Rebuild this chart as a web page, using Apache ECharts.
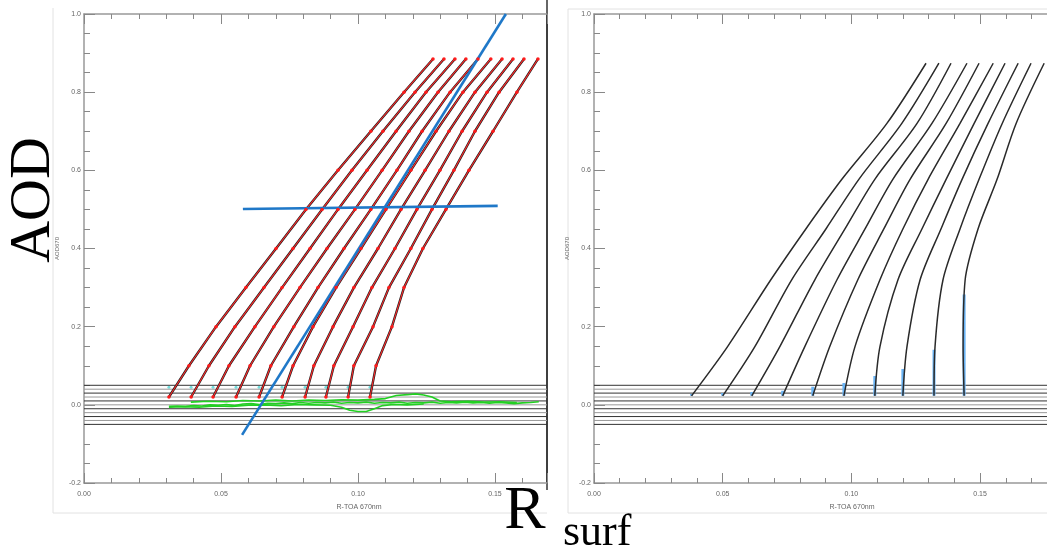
<!DOCTYPE html>
<html>
<head>
<meta charset="utf-8">
<script src="https://cdn.jsdelivr.net/npm/echarts@6/dist/echarts.min.js"></script>
<style>
html, body { margin: 0; padding: 0; background: #fff; }
#chart { width: 1047px; height: 551px; }
</style>
</head>
<body>
<div id="chart"></div>
<script>
// ===== data =====
// left panel: AOD levels where each curve was read, and R-TOA of each of the 10 curves
var leftAod = [0.02, 0.1, 0.2, 0.3, 0.4, 0.5, 0.6, 0.7, 0.8, 0.885];
var leftCurves = [
    [0.0310, 0.0383, 0.0482, 0.0591, 0.0701, 0.0810, 0.0927, 0.1047, 0.1168, 0.1274],
    [0.0391, 0.0456, 0.0551, 0.0657, 0.0763, 0.0869, 0.0978, 0.1091, 0.1208, 0.1314],
    [0.0471, 0.0529, 0.0624, 0.0723, 0.0825, 0.0927, 0.1033, 0.1139, 0.1248, 0.1354],
    [0.0555, 0.0606, 0.0693, 0.0788, 0.0887, 0.0989, 0.1088, 0.1186, 0.1292, 0.1394],
    [0.0639, 0.0682, 0.0766, 0.0854, 0.0949, 0.1047, 0.1142, 0.1234, 0.1336, 0.1438],
    [0.0723, 0.0763, 0.0836, 0.0920, 0.1011, 0.1102, 0.1193, 0.1285, 0.1383, 0.1485],
    [0.0807, 0.0839, 0.0909, 0.0985, 0.1073, 0.1157, 0.1245, 0.1332, 0.1427, 0.1526],
    [0.0883, 0.0912, 0.0982, 0.1051, 0.1135, 0.1215, 0.1299, 0.1380, 0.1471, 0.1566],
    [0.0964, 0.0985, 0.1055, 0.1113, 0.1193, 0.1270, 0.1350, 0.1427, 0.1515, 0.1606],
    [0.1044, 0.1066, 0.1124, 0.1168, 0.1237, 0.1321, 0.1405, 0.1493, 0.1580, 0.1657]
];

// right panel
var rightAod = [0.023, 0.149, 0.32, 0.45, 0.577, 0.72, 0.874];
var rightCurves = [
    [0.0379, 0.0519, 0.0687, 0.0823, 0.0963, 0.1138, 0.1290],
    [0.0500, 0.0625, 0.0768, 0.0901, 0.1029, 0.1196, 0.1340],
    [0.0613, 0.0722, 0.0858, 0.0975, 0.1091, 0.1255, 0.1387],
    [0.0733, 0.0819, 0.0944, 0.1053, 0.1161, 0.1313, 0.1449],
    [0.0850, 0.0916, 0.1025, 0.1126, 0.1228, 0.1368, 0.1496],
    [0.0971, 0.1014, 0.1111, 0.1200, 0.1298, 0.1422, 0.1551],
    [0.1091, 0.1111, 0.1181, 0.1274, 0.1368, 0.1477, 0.1597],
    [0.1200, 0.1216, 0.1267, 0.1348, 0.1430, 0.1531, 0.1648],
    [0.1321, 0.1325, 0.1356, 0.1422, 0.1496, 0.1586, 0.1698],
    [0.1438, 0.1434, 0.1442, 0.1492, 0.1566, 0.1640, 0.1749]
];
// top of the light blue mark at the foot of each right-panel curve
var rightBlueTop = [0.028, 0.030, 0.033, 0.036, 0.046, 0.056, 0.074, 0.092, 0.141, 0.282];

// horizontal band of lines around AOD 0
var bandLevels = [-0.05, -0.04, -0.03, -0.02, -0.01, 0.0, 0.01, 0.02, 0.03, 0.04, 0.05];

// blue lines on the left panel
var blueDiag = [[0.0577, -0.077], [0.154, 1.0]];
var blueFlat = [[0.058, 0.501], [0.151, 0.509]];

// green traces near AOD 0
var greenMain = [[0.031,-0.004],[0.034,-0.003],[0.037,-0.004],[0.040,-0.002],[0.043,-0.003],[0.046,0.000],[0.049,-0.001],[0.052,0.001],[0.055,-0.002],[0.058,0.002],[0.061,0.003],[0.064,0.001],[0.067,0.004],[0.070,0.003],[0.073,0.005],[0.076,0.003],[0.079,0.006],[0.082,0.004],[0.085,0.006],[0.088,0.005],[0.091,0.007],[0.094,0.004],[0.097,0.006],[0.100,0.005],[0.103,0.007],[0.106,0.004],[0.109,0.006],[0.112,0.005],[0.115,0.007],[0.118,0.004],[0.121,0.006],[0.124,0.005],[0.127,0.007],[0.130,0.004],[0.133,0.006],[0.136,0.005],[0.139,0.007],[0.142,0.005],[0.145,0.006],[0.148,0.004],[0.151,0.006],[0.154,0.005],[0.157,0.003],[0.160,0.005],[0.163,0.006],[0.166,0.008]];
var greenUpper = [[0.039,0.007],[0.045,0.009],[0.052,0.008],[0.058,0.011],[0.064,0.010],[0.070,0.012],[0.076,0.010],[0.082,0.012],[0.088,0.011],[0.094,0.013],[0.100,0.012],[0.106,0.014],[0.110,0.016],[0.114,0.024],[0.118,0.026],[0.121,0.028],[0.124,0.025],[0.127,0.020],[0.130,0.010],[0.134,0.008],[0.140,0.009],[0.146,0.007],[0.152,0.008],[0.158,0.006]];
var greenLower = [[0.031,-0.006],[0.036,-0.005],[0.042,-0.006],[0.048,-0.003],[0.054,-0.004],[0.060,-0.001],[0.066,0.000],[0.072,-0.002],[0.078,0.001],[0.084,0.000],[0.090,-0.001],[0.094,-0.006],[0.097,-0.014],[0.100,-0.017],[0.103,-0.017],[0.106,-0.010],[0.109,-0.002],[0.113,0.001],[0.118,0.000],[0.124,0.002]];

var xMaxLeft = 0.169, xMaxRight = 0.176;

// ===== helpers =====
function pairs(xs, ys) {
    return xs.map(function (x, i) { return [x, ys[i]]; });
}

var tickFont = { fontFamily: 'Liberation Sans', fontSize: 7, color: '#666' };

function xAxisDef(grid, max, pos, labels) {
    return {
        type: 'value', gridIndex: grid, min: 0, max: max, interval: 0.05, position: pos,
        axisLine: { show: true, onZero: false, lineStyle: { color: '#999', width: 1.5 } },
        axisTick: { show: true, inside: true, length: 10, lineStyle: { color: '#888' } },
        minorTick: { show: true, splitNumber: 5, length: 5, lineStyle: { color: '#888' } },
        axisLabel: Object.assign({ show: labels, margin: 8, showMaxLabel: false,
            formatter: function (v) { return v.toFixed(2); } }, tickFont),
        splitLine: { show: false }
    };
}

function yAxisDef(grid, pos, labels, name) {
    return {
        type: 'value', gridIndex: grid, min: -0.2, max: 1.0, interval: 0.2, position: pos,
        name: name, nameLocation: 'middle', nameGap: 24, nameRotate: 90,
        nameTextStyle: { fontFamily: 'Liberation Sans', fontSize: 6, color: '#666' },
        axisLine: { show: true, onZero: false, lineStyle: { color: labels ? '#999' : '#333', width: 1.5 } },
        axisTick: { show: labels, inside: true, length: 11, lineStyle: { color: '#888' } },
        minorTick: { show: labels, splitNumber: 4, length: 6, lineStyle: { color: '#888' } },
        axisLabel: Object.assign({ show: labels, margin: 3,
            formatter: function (v) { return v.toFixed(1); } }, tickFont),
        splitLine: { show: false }
    };
}

var series = [];

// horizontal band, both panels
bandLevels.forEach(function (lv, i) {
    var col = i % 2 === 0 ? '#333' : '#999';
    series.push({ type: 'line', xAxisIndex: 0, yAxisIndex: 0, data: [[0, lv], [xMaxLeft, lv]],
        symbol: 'none', silent: true, lineStyle: { color: col, width: 1 } });
    series.push({ type: 'line', xAxisIndex: 2, yAxisIndex: 2, data: [[0, lv], [xMaxRight, lv]],
        symbol: 'none', silent: true, lineStyle: { color: col, width: 1 } });
});

// green traces
[greenLower, greenUpper, greenMain].forEach(function (g) {
    series.push({ type: 'line', xAxisIndex: 0, yAxisIndex: 0, data: g, symbol: 'none',
        lineStyle: { color: '#22d022', width: 1.6 } });
});

// left curves: black underneath, red with dots on top
leftCurves.forEach(function (c) {
    var d = pairs(c, leftAod);
    series.push({ type: 'line', xAxisIndex: 0, yAxisIndex: 0, data: d, symbol: 'none',
        lineStyle: { color: '#222', width: 2.4 } });
    series.push({ type: 'line', xAxisIndex: 0, yAxisIndex: 0, data: d, symbol: 'circle', symbolSize: 3.5,
        itemStyle: { color: '#ff1a1a' }, lineStyle: { color: '#ff2a2a', width: 1.1 } });
    series.push({ type: 'scatter', xAxisIndex: 0, yAxisIndex: 0, data: [[c[0], 0.045]],
        symbolSize: 3, itemStyle: { color: '#4dd6d6' } });
});

// blue lines
[blueDiag, blueFlat].forEach(function (b) {
    series.push({ type: 'line', xAxisIndex: 0, yAxisIndex: 0, data: b, symbol: 'none',
        lineStyle: { color: '#1f78c8', width: 2.6 } });
});

// right panel: light blue marks then black curves
rightCurves.forEach(function (c, i) {
    series.push({ type: 'line', xAxisIndex: 2, yAxisIndex: 2, data: [[c[0], rightAod[0]], [c[0], rightBlueTop[i]]],
        symbol: 'none', lineStyle: { color: '#6ab4f5', width: 3 } });
    series.push({ type: 'line', xAxisIndex: 2, yAxisIndex: 2, data: pairs(c, rightAod), symbol: 'none',
        smooth: 0.3, lineStyle: { color: '#2a2a2a', width: 1.5 } });
});

var serif = 'Liberation Serif, Times New Roman, serif';

var option = {
    animation: false,
    backgroundColor: '#fff',
    grid: [
        { left: 84, top: 14, width: 463, height: 469 },
        { left: 594, top: 14, right: 0, height: 469 }
    ],
    xAxis: [
        xAxisDef(0, xMaxLeft, 'bottom', true),
        xAxisDef(0, xMaxLeft, 'top', false),
        xAxisDef(1, xMaxRight, 'bottom', true),
        xAxisDef(1, xMaxRight, 'top', false)
    ],
    yAxis: [
        yAxisDef(0, 'left', true, 'AOD670'),
        yAxisDef(0, 'right', false, ''),
        yAxisDef(1, 'left', true, 'AOD670')
    ],
    series: series,
    graphic: [
        { type: 'line', shape: { x1: 53, y1: 8, x2: 53, y2: 513 }, style: { stroke: '#e2e2e2', lineWidth: 1 } },
        { type: 'line', shape: { x1: 53, y1: 513, x2: 547, y2: 513 }, style: { stroke: '#e2e2e2', lineWidth: 1 } },
        { type: 'line', shape: { x1: 568, y1: 9, x2: 568, y2: 513 }, style: { stroke: '#e2e2e2', lineWidth: 1 } },
        { type: 'line', shape: { x1: 568, y1: 9, x2: 1047, y2: 9 }, style: { stroke: '#e2e2e2', lineWidth: 1 } },
        { type: 'line', shape: { x1: 568, y1: 513, x2: 1047, y2: 513 }, style: { stroke: '#e2e2e2', lineWidth: 1 } },
        { type: 'line', shape: { x1: 547, y1: 0, x2: 547, y2: 490 }, style: { stroke: '#333', lineWidth: 1.5 } },
        { type: 'text', x: 359, y: 507, style: { text: 'R-TOA 670nm', font: '7px Liberation Sans', fill: '#666', textAlign: 'center', textVerticalAlign: 'middle' } },
        { type: 'text', x: 852, y: 507, style: { text: 'R-TOA 670nm', font: '7px Liberation Sans', fill: '#666', textAlign: 'center', textVerticalAlign: 'middle' } },
        { type: 'text', x: 34, y: 200, rotation: Math.PI / 2,
          style: { text: 'AOD', font: '58px ' + serif, fill: '#000', textAlign: 'center', textVerticalAlign: 'middle' } },
        { type: 'text', x: 525, y: 512,
          style: { text: 'R', font: '62px ' + serif, fill: '#000', textAlign: 'center', textVerticalAlign: 'middle' } },
        { type: 'text', x: 563, y: 533,
          style: { text: 'surf', font: '44px ' + serif, fill: '#000', textAlign: 'left', textVerticalAlign: 'middle' } }
    ]
};

var myChart = echarts.init(document.getElementById('chart'));
myChart.setOption(option);
</script>
</body>
</html>
